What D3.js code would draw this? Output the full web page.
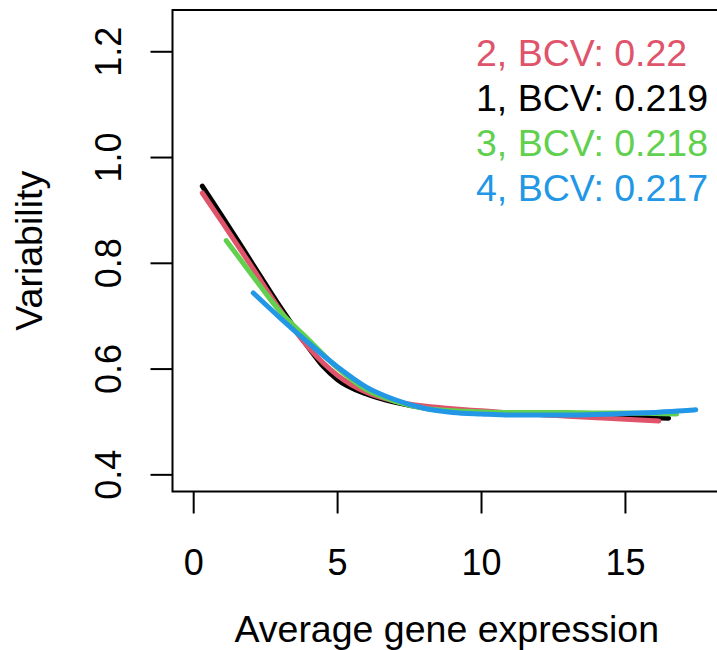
<!DOCTYPE html>
<html>
<head>
<meta charset="utf-8">
<script src="https://cdn.jsdelivr.net/npm/d3@7"></script>
<style>
  body { margin: 0; background: #fff; }
  text { font-family: "Liberation Sans", Arial, Helvetica, sans-serif; fill: #000; }
</style>
</head>
<body>
<div id="chart"></div>
<script>
// trend curves (average expression vs variability)
var x1 = [0.3, 1, 2, 3, 4, 4.5, 5, 6, 7, 8, 9, 10, 11, 12, 13, 14, 15, 16, 16.5];
var y1 = [0.946, 0.888, 0.803, 0.718, 0.64, 0.605, 0.58, 0.553, 0.537, 0.527, 0.522, 0.518, 0.515, 0.514, 0.513, 0.511, 0.510, 0.508, 0.507];

var x2 = [0.3, 1, 2, 3, 4, 5, 6, 7, 8, 9, 10, 11, 12, 13, 14, 15, 16.16];
var y2 = [0.933, 0.877, 0.795, 0.712, 0.64, 0.588, 0.556, 0.539, 0.530, 0.525, 0.521, 0.517, 0.514, 0.511, 0.508, 0.505, 0.502];

var x3 = [1.13, 2, 3, 4, 5, 6, 7, 8, 9, 10, 11, 12, 13, 14, 15, 16, 16.78];
var y3 = [0.843, 0.78, 0.709, 0.655, 0.602, 0.561, 0.539, 0.526, 0.521, 0.519, 0.518, 0.518, 0.518, 0.517, 0.517, 0.516, 0.515];

var x4 = [2.07, 3, 4, 5, 6, 7, 8, 9, 10, 11, 12, 13, 14, 15, 16, 17, 17.44];
var y4 = [0.744, 0.697, 0.649, 0.604, 0.566, 0.542, 0.526, 0.518, 0.515, 0.513, 0.513, 0.513, 0.514, 0.516, 0.518, 0.521, 0.523];

var seriesNames = ["1", "2", "3", "4"];
var seriesColors = ["#000000", "#DF536B", "#61D04F", "#2297E6"];
var bcv = ["0.219", "0.22", "0.218", "0.217"];
var legendOrder = [1, 0, 2, 3]; // sorted by BCV

var xTicks = [0, 5, 10, 15];
var yTicks = [0.4, 0.6, 0.8, 1.0, 1.2];

var svgWidth = 717, svgHeight = 650;
var margin = { top: 10, left: 172.5, bottom: 158.5, right: -4 };

var svg = d3.select("#chart").append("svg")
  .attr("width", svgWidth)
  .attr("height", svgHeight);

var x = d3.scaleLinear()
  .domain([-0.736, 18.32])
  .range([margin.left, svgWidth + 4]);

var y = d3.scaleLinear()
  .domain([0.3685, 1.279])
  .range([svgHeight - margin.bottom, margin.top]);

// plot box
svg.append("rect")
  .attr("x", x.range()[0])
  .attr("y", y.range()[1])
  .attr("width", x.range()[1] - x.range()[0])
  .attr("height", y.range()[0] - y.range()[1])
  .attr("fill", "none")
  .attr("stroke", "#000")
  .attr("stroke-width", 2);

// x axis ticks + labels
var xb = y.range()[0];
svg.selectAll(".xtick").data(xTicks).enter().append("line")
  .attr("x1", d => x(d)).attr("x2", d => x(d))
  .attr("y1", xb).attr("y2", xb + 22)
  .attr("stroke", "#000").attr("stroke-width", 2);

svg.selectAll(".xlab").data(xTicks).enter().append("text")
  .attr("x", d => x(d))
  .attr("y", 575)
  .attr("text-anchor", "middle")
  .style("font-size", "36px")
  .text(d => d);

// y axis ticks + labels (rotated, R style)
var yl = x.range()[0];
svg.selectAll(".ytick").data(yTicks).enter().append("line")
  .attr("x1", yl - 22).attr("x2", yl)
  .attr("y1", d => y(d)).attr("y2", d => y(d))
  .attr("stroke", "#000").attr("stroke-width", 2);

svg.selectAll(".ylab").data(yTicks).enter().append("text")
  .attr("transform", d => "translate(121," + y(d) + ") rotate(-90)")
  .attr("text-anchor", "middle")
  .style("font-size", "36px")
  .text(d => d.toFixed(1));

// axis titles
svg.append("text")
  .attr("x", (x.range()[0] + x.range()[1]) / 2)
  .attr("y", 642)
  .attr("text-anchor", "middle")
  .style("font-size", "37.5px")
  .text("Average gene expression");

svg.append("text")
  .attr("transform", "translate(42," + (y.range()[0] + y.range()[1]) / 2 + ") rotate(-90)")
  .attr("text-anchor", "middle")
  .style("font-size", "37.5px")
  .text("Variability");

// curves
var allX = [x1, x2, x3, x4];
var allY = [y1, y2, y3, y4];
var line = d3.line()
  .x(d => x(d[0]))
  .y(d => y(d[1]))
  .curve(d3.curveMonotoneX);

allX.forEach(function(xs, i) {
  var pts = xs.map((v, j) => [v, allY[i][j]]);
  svg.append("path")
    .datum(pts)
    .attr("d", line)
    .attr("fill", "none")
    .attr("stroke", seriesColors[i])
    .attr("stroke-width", 5)
    .attr("stroke-linecap", "round");
});

// legend
legendOrder.forEach(function(k, i) {
  svg.append("text")
    .attr("x", 476)
    .attr("y", 66 + i * 45)
    .style("font-size", "37.5px")
    .style("fill", seriesColors[k])
    .text(seriesNames[k] + ", BCV: " + bcv[k]);
});
</script>
</body>
</html>
